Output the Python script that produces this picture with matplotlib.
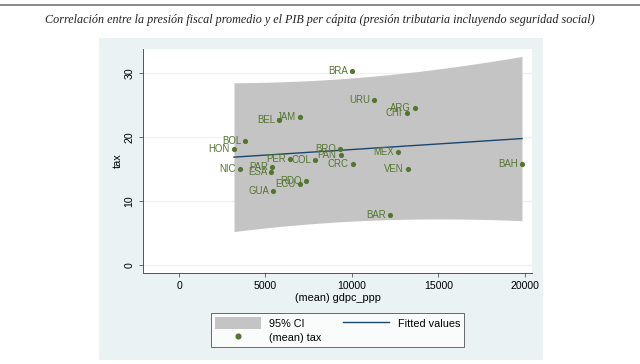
import numpy as np
import matplotlib
matplotlib.use("Agg")
import matplotlib.pyplot as plt
from matplotlib.patches import Rectangle, Patch
from matplotlib.lines import Line2D

countries = ["BRA", "URU", "JAM", "BEL", "BOL", "HON", "PER", "COL", "NIC", "PAR",
             "ESA", "RDO", "ECU", "GUA", "BRO", "PAN", "CRC", "ARG", "CHI", "MEX",
             "VEN", "BAR", "BAH"]
gdpc_ppp = [9983, 11290, 7012, 5780, 3834, 3179, 6416, 7881, 3507, 5395,
            5337, 7341, 6994, 5453, 9324, 9345, 10058, 13642, 13160, 12659,
            13218, 12197, 19827]
tax = [30.4, 25.9, 23.2, 22.75, 19.4, 18.2, 16.55, 16.5, 15.1, 15.4,
       14.6, 13.2, 12.65, 11.65, 18.1, 17.2, 15.8, 24.6, 23.85, 17.65,
       15.0, 7.8, 15.9]

title = ("Correlación entre la presión fiscal promedio y el PIB per cápita "
         "(presión tributaria incluyendo seguridad social)")
xticks = [0, 5000, 10000, 15000, 20000]
yticks = [0, 10, 20, 30]

W, H = 640, 364
fig = plt.figure(figsize=(6.4, 3.64), dpi=100)
fig.patch.set_facecolor("white")
plt.rcParams["font.family"] = ["Liberation Sans", "DejaVu Sans"]

# top rule
fig.add_artist(Line2D([0, 1], [1 - 5 / H, 1 - 5 / H], transform=fig.transFigure,
                      color="#8a8a8a", lw=1.4))
fig.text(0.5, 1 - 20 / H, title, ha="center", va="center", fontsize=8.75,
         style="italic", family=["Liberation Serif", "DejaVu Serif"], color="#222222")

# outer graph region
fig.add_artist(Rectangle((99 / W, 1 - 360 / H), (543 - 99) / W, (360 - 38) / H,
                         transform=fig.transFigure, facecolor="#EAF2F3",
                         edgecolor="none", zorder=0))

ax = fig.add_axes([143 / W, 1 - 273 / H, (532 - 143) / W, (273 - 49) / H])
ax.set_facecolor("white")

x = np.array(gdpc_ppp, dtype=float)
y = np.array(tax, dtype=float)
n = len(x)
b, a = np.polyfit(x, y, 1)
resid = y - (a + b * x)
s = np.sqrt(np.sum(resid ** 2) / (n - 2))
xbar = x.mean()
sxx = np.sum((x - xbar) ** 2)
tval = 2.0796  # t(0.975, 21)
xs = np.linspace(x.min(), x.max(), 200)
fit = a + b * xs
se = s * np.sqrt(1 + 1 / n + (xs - xbar) ** 2 / sxx)

for yt in yticks:
    ax.axhline(yt, color="#EAF2F3", lw=0.9, zorder=0)

ax.fill_between(xs, fit - tval * se, fit + tval * se, color="#C4C4C4", lw=0, zorder=1)
ax.plot(xs, fit, color="#1A476F", lw=1.0, zorder=2)
ax.scatter(x, y, s=14, color="#55752F", zorder=3, linewidths=0)
for c, xi, yi in zip(countries, x, y):
    ax.annotate(c, (xi, yi), xytext=(-3, 0), textcoords="offset points",
                ha="right", va="center", fontsize=6.9, color="#55752F", zorder=4)

ax.set_xlim(-2081, 20405)
ax.set_ylim(-1.2, 33.8)
ax.set_xticks(xticks)
ax.set_yticks(yticks)
ax.set_xticklabels([str(t) for t in xticks], fontsize=7.6)
ax.set_yticklabels([str(t) for t in yticks], fontsize=7.6, rotation=90, va="center")
ax.tick_params(axis="both", length=3, width=0.6, color="#555555", pad=3)
for side in ["top", "right"]:
    ax.spines[side].set_visible(False)
for side in ["left", "bottom"]:
    ax.spines[side].set_color("#555555")
    ax.spines[side].set_linewidth(0.7)
ax.set_xlabel("(mean) gdpc_ppp", fontsize=7.8, labelpad=1.5)
ax.set_ylabel("tax", fontsize=7.8, labelpad=1.5)

handles = [Patch(facecolor="#C4C4C4", edgecolor="none"),
           Line2D([], [], marker="o", ls="none", color="#55752F", markersize=3.4),
           Line2D([], [], color="#1A476F", lw=1.0)]
labels = ["95% CI", "(mean) tax", "Fitted values"]
leg = fig.legend(handles, labels, ncol=2, loc="center",
                 bbox_to_anchor=(337.5 / W, 1 - 330 / H), fontsize=7.8,
                 frameon=True, fancybox=False, edgecolor="#444444",
                 handlelength=4.2, handleheight=1.2, columnspacing=2.0,
                 labelspacing=0.25, borderpad=0.4, handletextpad=0.8)
leg.get_frame().set_linewidth(0.7)

fig.savefig("out.png", dpi=100, facecolor="white")
